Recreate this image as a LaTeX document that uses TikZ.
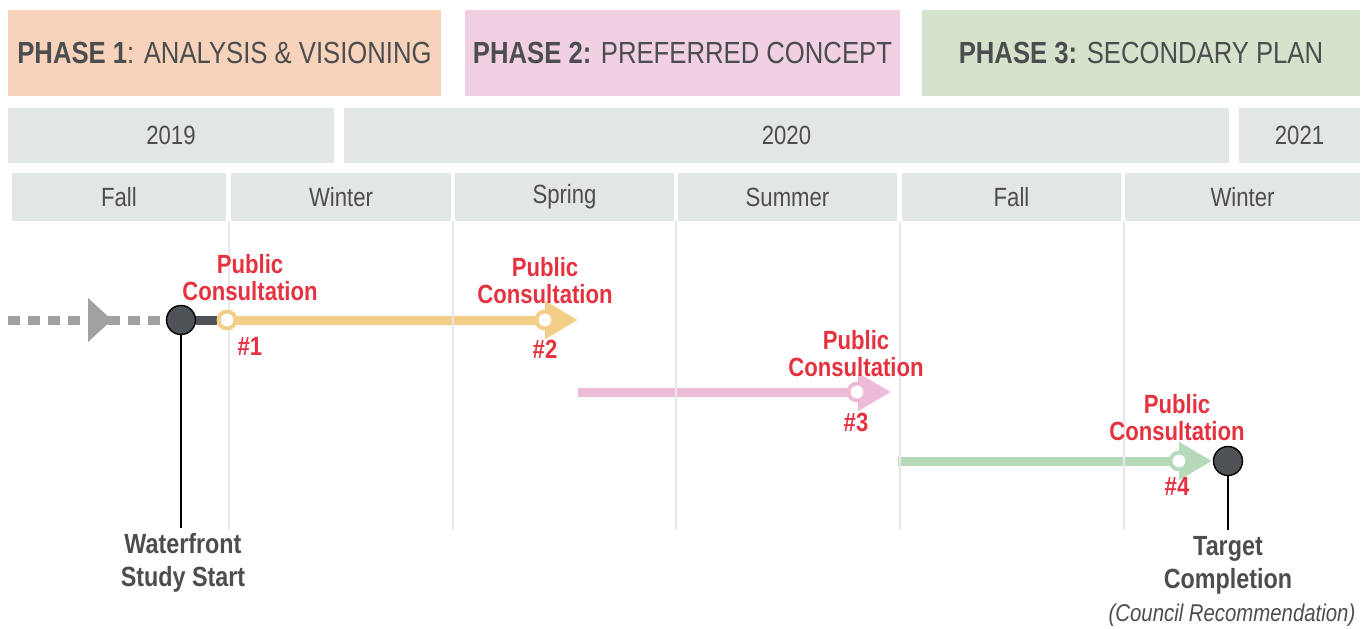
\documentclass[tikz,border=0pt]{standalone}
\usepackage{fontspec}
\setmainfont{Liberation Sans}[FakeStretch=0.84]
\usetikzlibrary{arrows.meta, positioning, backgrounds}

\definecolor{PhaseOne}{RGB}{247, 211, 187}
\definecolor{PhaseTwo}{RGB}{242, 208, 227}
\definecolor{PhaseThree}{RGB}{214, 227, 204}
\definecolor{BarGray}{RGB}{227, 230, 231}
\definecolor{GridGray}{RGB}{232, 232, 232}
\definecolor{TextGray}{RGB}{75, 77, 79}
\definecolor{ConsultRed}{RGB}{229, 50, 64}
\definecolor{TrackYellow}{RGB}{243, 206, 136}
\definecolor{TrackPink}{RGB}{236, 187, 216}
\definecolor{TrackGreen}{RGB}{182, 217, 186}
\definecolor{DotDark}{RGB}{80, 83, 85}
\definecolor{LeadGray}{RGB}{160, 161, 162}

\tikzset{
  phasebox/.style={minimum height=1.72cm, inner sep=0pt, text=TextGray,
    font=\fontsize{17.4}{19}\selectfont},
  yearbox/.style={fill=BarGray, minimum height=1.10cm, inner sep=0pt, text=TextGray,
    font=\fontsize{15}{17}\selectfont},
  seasonbox/.style={fill=BarGray, minimum height=0.96cm, inner sep=0pt, text=TextGray,
    font=\fontsize{15}{17}\selectfont},
  gridline/.style={GridGray, line width=0.6pt},
  track/.style={line width=0.18cm},
  bigtip/.style={-{Triangle[length=0.66cm, width=0.72cm]}},
  hollowdot/.style={circle, fill=white, line width=2.2pt, minimum size=0.34cm, inner sep=0pt},
  milestone/.style={circle, draw=black, fill=DotDark, line width=0.8pt, minimum size=0.58cm, inner sep=0pt},
  consult/.style={text=ConsultRed, align=center, inner sep=0pt,
    font=\bfseries\fontsize{15}{15.3}\selectfont},
  event/.style={text=TextGray, align=center, inner sep=0pt,
    font=\bfseries\fontsize{15.8}{18.7}\selectfont},
}

\begin{document}
\begin{tikzpicture}[x=0.02cm, y=-0.02cm]
  \useasboundingbox (0,0) rectangle (1367,629);

  % phases
  \node[phasebox, fill=PhaseOne, minimum width=8.66cm] (ph1) at (224.5,53) {\textbf{PHASE 1}: ANALYSIS \& VISIONING};
  \node[phasebox, fill=PhaseTwo, minimum width=8.70cm] (ph2) at (682.5,53) {\textbf{PHASE 2:} PREFERRED CONCEPT};
  \node[phasebox, fill=PhaseThree, minimum width=8.76cm] (ph3) at (1141,53) {\textbf{PHASE 3:} SECONDARY PLAN};

  % years
  \node[yearbox, minimum width=6.52cm] (y2019) at (171,135.5) {2019};
  \node[yearbox, minimum width=17.70cm] (y2020) at (786.5,135.5) {2020};
  \node[yearbox, minimum width=2.42cm] (y2021) at (1299.5,135.5) {2021};

  % seasons
  \node[seasonbox, minimum width=4.28cm] (s1) at (119,197) {Fall};
  \node[seasonbox, minimum width=4.40cm] (s2) at (341,197) {Winter};
  \node[seasonbox, minimum width=4.38cm] (s3) at (564.5,197) {Spring};
  \node[seasonbox, minimum width=4.38cm] (s4) at (787.5,197) {Summer};
  \node[seasonbox, minimum width=4.38cm] (s5) at (1011.5,197) {Fall};
  \node[seasonbox, minimum width=4.70cm] (s6) at (1242.5,197) {Winter};

  % season dividers
  \foreach \gx in {229,453,676,900,1124}
    \draw[gridline] (\gx,221) -- (\gx,530);

  % milestones and consultations
  \node[milestone] (start) at (181,320) {};
  \node[hollowdot, draw=TrackYellow] (c1) at (227,320) {};
  \node[hollowdot, draw=TrackYellow] (c2) at (545,320) {};
  \node[hollowdot, draw=TrackPink] (c3) at (857,392) {};
  \node[hollowdot, draw=TrackGreen] (c4) at (1179,461) {};
  \node[milestone] (finish) at (1228,461) {};

  \coordinate (lead) at (8,320);
  \coordinate (leadtip) at (112,320);
  \coordinate (a1) at (578,320);
  \coordinate (p0) at (578,392);
  \coordinate (a2) at (891,392);
  \coordinate (g0) at (898,461);
  \coordinate (a3) at (1212,461);
  \coordinate (startfoot) at (181,528);
  \coordinate (finishfoot) at (1228,530);

  \begin{pgfonlayer}{background}
    \draw[track, LeadGray, dash pattern=on 0.24cm off 0.16cm] (lead) -- (start);
    \fill[LeadGray] (leadtip) -- ++(-24,-22) -- ++(0,44) -- cycle;
    \draw[track, DotDark] (start) -- (c1);
    \draw[track, TrackYellow, bigtip] (c1.center) -- (a1);
    \draw[track, TrackPink, bigtip] (p0) -- (a2);
    \draw[track, TrackGreen, bigtip] (g0) -- (a3);
  \end{pgfonlayer}

  \draw[black, line width=0.6pt] (start) -- (startfoot);
  \draw[black, line width=0.6pt] (finish) -- (finishfoot);

  % labels
  \node[consult] (l1) at (250,278) {Public\\Consultation};
  \node[consult] (n1) at (250,346) {\#1};
  \node[consult] (l2) at (545,281) {Public\\Consultation};
  \node[consult] (n2) at (545,349) {\#2};
  \node[consult] (l3) at (856,354) {Public\\Consultation};
  \node[consult] (n3) at (856,422) {\#3};
  \node[consult] (l4) at (1177,418) {Public\\Consultation};
  \node[consult] (n4) at (1177,486) {\#4};

  \node[event] (startlbl) at (183,563) {Waterfront\\Study Start};
  \node[event] (finishlbl) at (1228,565) {Target\\Completion};
  \node[text=TextGray, inner sep=0pt, font=\itshape\fontsize{13.8}{15}\selectfont] (council) at (1232,615) {(Council Recommendation)};
\end{tikzpicture}
\end{document}
